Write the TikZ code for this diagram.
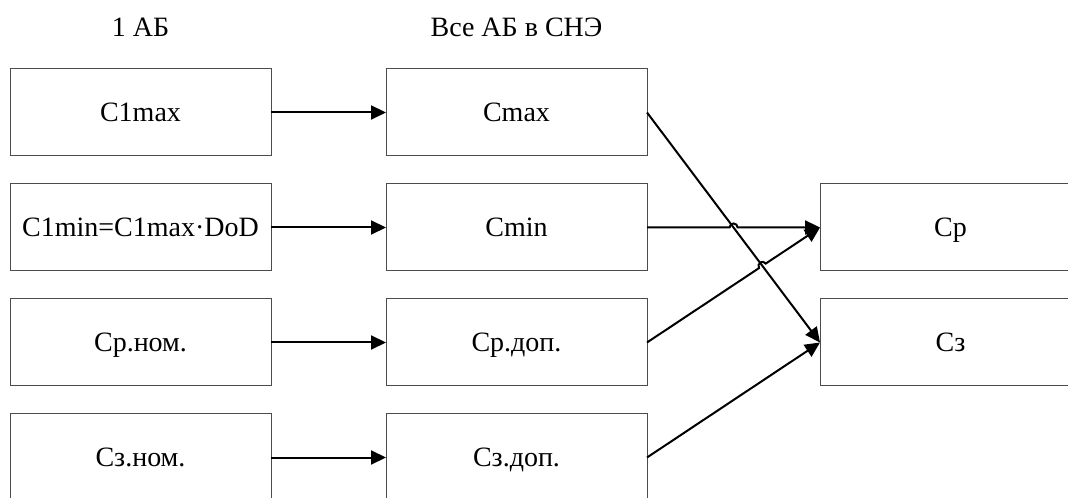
\documentclass[tikz,border=0pt]{standalone}
\usepackage{fontspec}
\setmainfont{Liberation Serif}
\usetikzlibrary{arrows.meta,positioning,calc}
\tikzset{
  pbox/.style={draw=black!70,line width=0.5pt,minimum width=130.5pt,
               minimum height=43.5pt,inner sep=0pt,outer sep=0pt,
               text height=9.3pt,text depth=0pt,
               font=\fontsize{14}{16}\selectfont},
  head/.style={inner sep=0pt,font=\fontsize{14}{16}\selectfont},
  flow/.style={-{Triangle[length=7.5pt,width=7pt]},line width=1pt,black}
}

\begin{document}
\begin{tikzpicture}[x=0.5pt,y=0.5pt,node distance=14pt and 57.5pt]
  \useasboundingbox (0,0) rectangle (1068,497);
  % one battery
  \node[pbox] (c1max) at (140.5,384.5) {C1max};
  \node[pbox,below=of c1max] (c1min) {C1min=C1max·DoD};
  \node[pbox,below=of c1min] (crnom) {Ср.ном.};
  \node[pbox,below=of crnom] (cznom) {Сз.ном.};
  % whole storage system
  \node[pbox,right=of c1max] (cmax) {Cmax};
  \node[pbox,right=of c1min] (cmin) {Cmin};
  \node[pbox,right=of crnom] (crdop) {Ср.доп.};
  \node[pbox,right=of cznom] (czdop) {Сз.доп.};
  % results
  \node[pbox,right=86.5pt of cmin] (cr) {Ср};
  \node[pbox,right=86.5pt of crdop] (cz) {Сз};
  \node[head,above=16pt of c1max] (hone) {1 АБ};
  \node[head,above=16pt of cmax] (hall) {Все АБ в СНЭ};
  \draw[flow] (c1max)--(cmax);\draw[flow] (c1min)--(cmin);
  \draw[flow] (crnom)--(crdop);\draw[flow] (cznom)--(czdop);
  \draw[flow] (cmax.east)--(cz.west);
  % line hops where the paths cross Cmax -> Сз
  \coordinate (xa) at (intersection of cmax.east--cz.west and cmin.east--cr.west);
  \coordinate (xb) at (intersection of cmax.east--cz.west and crdop.east--cr.west);
  \draw[flow] (cmin.east) -- ($(xa)+(-2pt,0)$) arc[start angle=180,end angle=0,radius=2pt] -- (cr.west);
  \draw[flow] let \p1=($(cr.west)-(crdop.east)$), \n1={atan2(\y1,\x1)} in
    (crdop.east) -- ($(xb)!2pt!(crdop.east)$) arc[start angle=\n1+180,end angle=\n1,radius=2pt] -- (cr.west);
  \draw[flow] (czdop.east)--(cz.west);
\end{tikzpicture}
\end{document}
